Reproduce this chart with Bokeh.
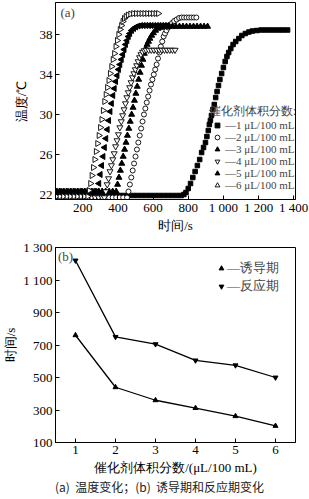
import math
from bokeh.plotting import figure
from bokeh.models import FixedTicker, Legend, LegendItem, Label, Div, Range1d
from bokeh.layouts import column
from bokeh.embed import file_html
from bokeh.resources import INLINE

FONT = "Liberation Serif"

# ---------------- (a) temperature vs time ----------------
legend_title = "催化剂体积分数:"
series_labels = ["—1 μL/100 mL", "—2 μL/100 mL", "—3 μL/100 mL",
                 "—4 μL/100 mL", "—5 μL/100 mL", "—6 μL/100 mL"]

t1 = [60, 85, 110, 135, 160, 185, 210, 235, 260, 285, 310, 335, 360, 385, 410, 435, 460, 485,
      510, 535, 560, 585, 610, 635, 660, 685, 710, 735,
      760, 775, 787, 800, 813, 826, 839, 852, 865, 876, 887, 898, 906, 914, 920, 926, 932, 940,
      948, 956, 964, 972, 980, 990, 1000, 1010, 1020, 1030, 1042, 1055, 1070, 1088, 1105, 1125,
      1145, 1165, 1190,
      1215, 1240, 1265, 1290, 1315, 1340, 1365]
T1 = [21.9, 21.9, 21.9, 21.9, 21.9, 21.9, 21.9, 21.9, 21.9, 21.9, 21.9, 21.9, 21.9, 21.9, 21.9,
      21.9, 21.9, 21.9, 21.9, 21.9, 21.9, 21.9, 21.9, 21.9, 21.9, 21.9, 21.9, 21.9,
      21.9, 22.0, 22.2, 22.6, 23.1, 23.7, 24.3, 24.9, 25.5, 26.2, 26.7, 27.2, 27.8, 28.4, 29.0,
      29.4, 29.9, 30.5, 31.0, 31.7, 32.3, 32.9, 33.5, 34.1, 34.7, 35.3, 35.8, 36.2, 36.6, 37.0,
      37.3, 37.6, 37.9, 38.1, 38.25, 38.35, 38.4,
      38.45, 38.45, 38.45, 38.45, 38.45, 38.45, 38.45]

t2 = [50, 70, 90, 110, 130, 150, 170, 190, 210, 230, 250, 270, 290, 310, 330, 350, 370, 390, 410, 430,
      452, 460, 468, 476, 484, 492, 500, 508, 516, 524, 532, 540, 548, 556, 564, 572, 580, 588, 596,
      604, 612, 620, 628, 636, 644, 652, 660, 668, 676, 686, 696, 708, 720, 734, 748,
      762, 776, 790, 804, 818, 832, 846]
T2 = [21.7, 21.7, 21.7, 21.7, 21.7, 21.7, 21.7, 21.7, 21.7, 21.7, 21.7, 21.7, 21.7, 21.7, 21.7,
      21.7, 21.7, 21.7, 21.7, 21.7,
      21.7, 22.3, 23.0, 23.7, 24.4, 25.1, 25.8, 26.5, 27.2, 27.9, 28.6, 29.3, 30.0, 30.6, 31.2, 31.8,
      32.4, 33.0, 33.5, 34.0, 34.5, 35.0, 35.6, 36.2, 36.8, 37.3, 37.8, 38.1, 38.4, 38.7, 38.9,
      39.15, 39.35, 39.5, 39.65,
      39.7, 39.7, 39.7, 39.7, 39.7, 39.7, 39.7]

t3 = [50, 70, 90, 110, 130, 150, 170, 190, 210, 230, 250, 270, 290, 310, 330, 350, 370,
      390, 398, 406, 414, 422, 430, 438, 446, 454, 462, 470, 478, 486, 494, 502, 510, 518, 526,
      534, 542, 550, 558, 566, 574, 582, 592, 602, 614, 628, 644, 660, 676,
      692, 710, 730, 750, 770, 790, 810, 830, 850, 870, 890, 910]
T3 = [22.3, 22.3, 22.3, 22.3, 22.3, 22.3, 22.3, 22.3, 22.3, 22.3, 22.3, 22.3, 22.3, 22.3, 22.3,
      22.3, 22.3,
      22.3, 23.0, 23.7, 24.4, 25.1, 25.8, 26.5, 27.2, 27.9, 28.6, 29.3, 30.0, 30.7, 31.4, 32.1,
      32.8, 33.5, 34.2, 34.9, 35.5, 36.1, 36.6, 37.0, 37.3, 37.6, 37.9, 38.15, 38.4, 38.6, 38.7,
      38.75, 38.8,
      38.8, 38.8, 38.8, 38.8, 38.8, 38.8, 38.8, 38.8, 38.8, 38.8, 38.8, 38.8]

t4 = [50, 70, 90, 110, 130, 150, 170, 190, 210, 230, 250, 270, 290, 310,
      323, 331, 339, 347, 355, 363, 371, 379, 387, 395, 403, 411, 419, 427, 435, 443, 451, 459,
      467, 475, 483, 491, 499, 507, 515, 523, 531, 540, 550,
      560, 575, 590, 605, 620, 635, 650, 665, 680, 695, 710, 725]
T4 = [21.7, 21.7, 21.7, 21.7, 21.7, 21.7, 21.7, 21.7, 21.7, 21.7, 21.7, 21.7, 21.7, 21.7,
      21.7, 22.3, 23.0, 23.6, 24.3, 24.9, 25.5, 26.1, 26.8, 27.4, 28.0, 28.7, 29.3, 29.9, 30.5,
      31.1, 31.7, 32.2, 32.7, 33.2, 33.7, 34.1, 34.5, 34.9, 35.3, 35.7, 36.0, 36.25, 36.4,
      36.45, 36.45, 36.45, 36.45, 36.45, 36.45, 36.45, 36.45, 36.45, 36.45, 36.45, 36.45]

t5 = [50, 70, 90, 110, 130, 150, 170, 190, 210, 230, 250, 270,
      284, 292, 300, 308, 316, 324, 332, 340, 348, 356, 364, 372, 380, 388, 396, 404, 412, 420,
      428, 436, 444, 452, 460, 468, 478, 490, 502, 516,
      530, 545, 560, 575, 590, 605, 620, 635, 650, 665, 680]
T5 = [22.3, 22.3, 22.3, 22.3, 22.3, 22.3, 22.3, 22.3, 22.3, 22.3, 22.3, 22.3,
      22.3, 23.1, 24.0, 24.9, 25.8, 26.7, 27.6, 28.5, 29.4, 30.3, 31.1, 31.9, 32.6, 33.3, 33.9,
      34.5, 35.0, 35.5, 36.0, 36.5, 37.0, 37.4, 37.8, 38.1, 38.4, 38.6, 38.75, 38.85,
      38.9, 38.9, 38.9, 38.9, 38.9, 38.9, 38.9, 38.9, 38.9, 38.9, 38.9]

t6 = [50, 70, 90, 110, 130, 150, 170, 190, 210,
      228, 236, 244, 252, 260, 268, 276, 284, 292, 300, 308, 316, 324, 332, 340, 348, 356, 364,
      372, 380, 388, 396, 404, 412, 420, 428, 436, 446, 458, 472,
      488, 504, 520, 536, 552, 568, 584, 600, 616, 630]
T6 = [21.8, 21.8, 21.8, 21.8, 21.8, 21.8, 21.8, 21.8, 21.8,
      21.8, 22.4, 23.1, 23.9, 24.7, 25.5, 26.3, 27.1, 27.9, 28.7, 29.5, 30.4, 31.3, 32.0, 32.7,
      33.4, 34.1, 34.8, 35.5, 36.1, 36.8, 37.4, 38.0, 38.5, 38.9, 39.3, 39.6, 39.8, 39.95, 40.05,
      40.1, 40.1, 40.1, 40.1, 40.1, 40.1, 40.1, 40.1, 40.1, 40.1]

x_ticks_a = [200, 400, 600, 800, 1000, 1200, 1400]
x_tick_labels_a = ["200", "400", "600", "800", "1 000", "1 200", "1 400"]
y_ticks_a = [22, 26, 30, 34, 38]

# ---------------- (b) periods vs catalyst dosage ----------------
dosage = [1, 2, 3, 4, 5, 6]
induction = [760, 440, 360, 312, 262, 202]
reaction = [1220, 750, 705, 605, 575, 500]
legend_b = ["—诱导期", "—反应期"]
y_ticks_b = [100, 300, 500, 700, 900, 1100, 1300]
y_tick_labels_b = ["100", "300", "500", "700", "900", "1 100", "1 300"]


def style(p):
    p.outline_line_color = "black"
    p.outline_line_width = 1
    p.xgrid.visible = False
    p.ygrid.visible = False
    p.background_fill_color = "white"
    p.border_fill_color = "white"
    for ax in list(p.xaxis) + list(p.yaxis):
        ax.major_tick_in = 4
        ax.major_tick_out = 0
        ax.minor_tick_line_color = None
        ax.axis_line_color = "black"
        ax.major_tick_line_color = "black"
        ax.major_label_text_font = FONT
        ax.major_label_text_font_size = "13px"
        ax.major_label_text_color = "black"
        ax.axis_label_text_font = FONT
        ax.axis_label_text_font_style = "normal"
        ax.axis_label_text_font_size = "13px"
        ax.axis_label_text_color = "black"
        ax.major_label_standoff = 3


p1 = figure(width=309, height=235, output_backend="svg", toolbar_location=None,
            x_range=Range1d(45, 1410), y_range=Range1d(21.5, 41.2),
            min_border_left=50, min_border_right=14, min_border_top=2, min_border_bottom=36)
style(p1)
p1.xaxis.ticker = FixedTicker(ticks=x_ticks_a)
p1.xaxis.major_label_overrides = {t: l for t, l in zip(x_ticks_a, x_tick_labels_a)}
p1.yaxis.ticker = FixedTicker(ticks=y_ticks_a)
p1.xaxis.axis_label = "时间/s"
p1.yaxis.axis_label = "温度/℃"
p1.xaxis.major_label_standoff = 0
p1.xaxis.axis_label_standoff = 0
p1.yaxis.axis_label_standoff = 8

r1 = p1.scatter(t1, T1, marker="square", size=4.5, color="black")
r2 = p1.scatter(t2, T2, marker="circle", size=5, line_color="black", fill_color="white", line_width=0.9)
r3 = p1.scatter(t3, T3, marker="triangle", size=6, color="black")
r4 = p1.scatter(t4, T4, marker="inverted_triangle", size=6, line_color="black", fill_color="white", line_width=0.9)
r5 = p1.scatter(t5, T5, marker="triangle", angle=math.pi / 2, size=6, color="black")
r6 = p1.scatter(t6, T6, marker="triangle", angle=-math.pi / 2, size=6, line_color="black", fill_color="white", line_width=0.9)

leg1 = Legend(items=[LegendItem(label=lab, renderers=[r]) for lab, r in
                     zip(series_labels, [r1, r2, r3, r4, r5, r6])],
              location=(154, 8), title=legend_title)
leg1.border_line_alpha = 0
leg1.background_fill_alpha = 0
leg1.padding = 0
leg1.margin = 0
leg1.spacing = 0
leg1.glyph_width = 16
leg1.glyph_height = 12
leg1.label_height = 12
leg1.label_standoff = 0
leg1.label_text_font = FONT
leg1.label_text_font_size = "11px"
leg1.title_text_font = FONT
leg1.title_text_font_size = "11.5px"
leg1.title_text_font_style = "normal"
leg1.title_standoff = 0
p1.add_layout(leg1)
p1.add_layout(Label(x=73, y=40.95, text="(a)", text_font=FONT, text_font_size="13px",
                    text_baseline="top", text_align="left"))

p2 = figure(width=309, height=242, output_backend="svg", toolbar_location=None,
            x_range=Range1d(0.5, 6.5), y_range=Range1d(100, 1300),
            min_border_left=50, min_border_right=14, min_border_top=12, min_border_bottom=34)
style(p2)
p2.xaxis.ticker = FixedTicker(ticks=dosage)
p2.yaxis.ticker = FixedTicker(ticks=y_ticks_b)
p2.yaxis.major_label_overrides = {t: l for t, l in zip(y_ticks_b, y_tick_labels_b)}
p2.xaxis.axis_label = "催化剂体积分数/(μL/100 mL)"
p2.yaxis.axis_label = "时间/s"
p2.xaxis.axis_label_standoff = 3
p2.yaxis.axis_label_standoff = 2

p2.line(dosage, induction, line_color="black", line_width=1.3)
p2.line(dosage, reaction, line_color="black", line_width=1.3)
ra = p2.scatter(dosage, induction, marker="triangle", size=5, color="black")
rb = p2.scatter(dosage, reaction, marker="inverted_triangle", size=5, color="black")

leg2 = Legend(items=[LegendItem(label=legend_b[0], renderers=[ra]),
                     LegendItem(label=legend_b[1], renderers=[rb])],
              location=(160, 147))
leg2.border_line_alpha = 0
leg2.background_fill_alpha = 0
leg2.padding = 0
leg2.margin = 0
leg2.spacing = 0
leg2.glyph_width = 12
leg2.glyph_height = 14
leg2.label_height = 14
leg2.label_standoff = 0
leg2.label_text_font = FONT
leg2.label_text_font_size = "13px"
p2.add_layout(leg2)
p2.add_layout(Label(x=0.56, y=1290, text="(b)", text_font=FONT, text_font_size="13px",
                    text_baseline="top", text_align="left"))

caption = Div(text="(a)&nbsp; 温度变化；(b)&nbsp; 诱导期和反应期变化", width=309, height=22,
              styles={"text-align": "center", "font-size": "12px",
                      "font-family": "Noto Sans CJK SC", "line-height": "10px", "color": "#222"})

layout = column(p1, p2, caption, spacing=0)
open("out.html", "w").write(file_html(layout, INLINE))
